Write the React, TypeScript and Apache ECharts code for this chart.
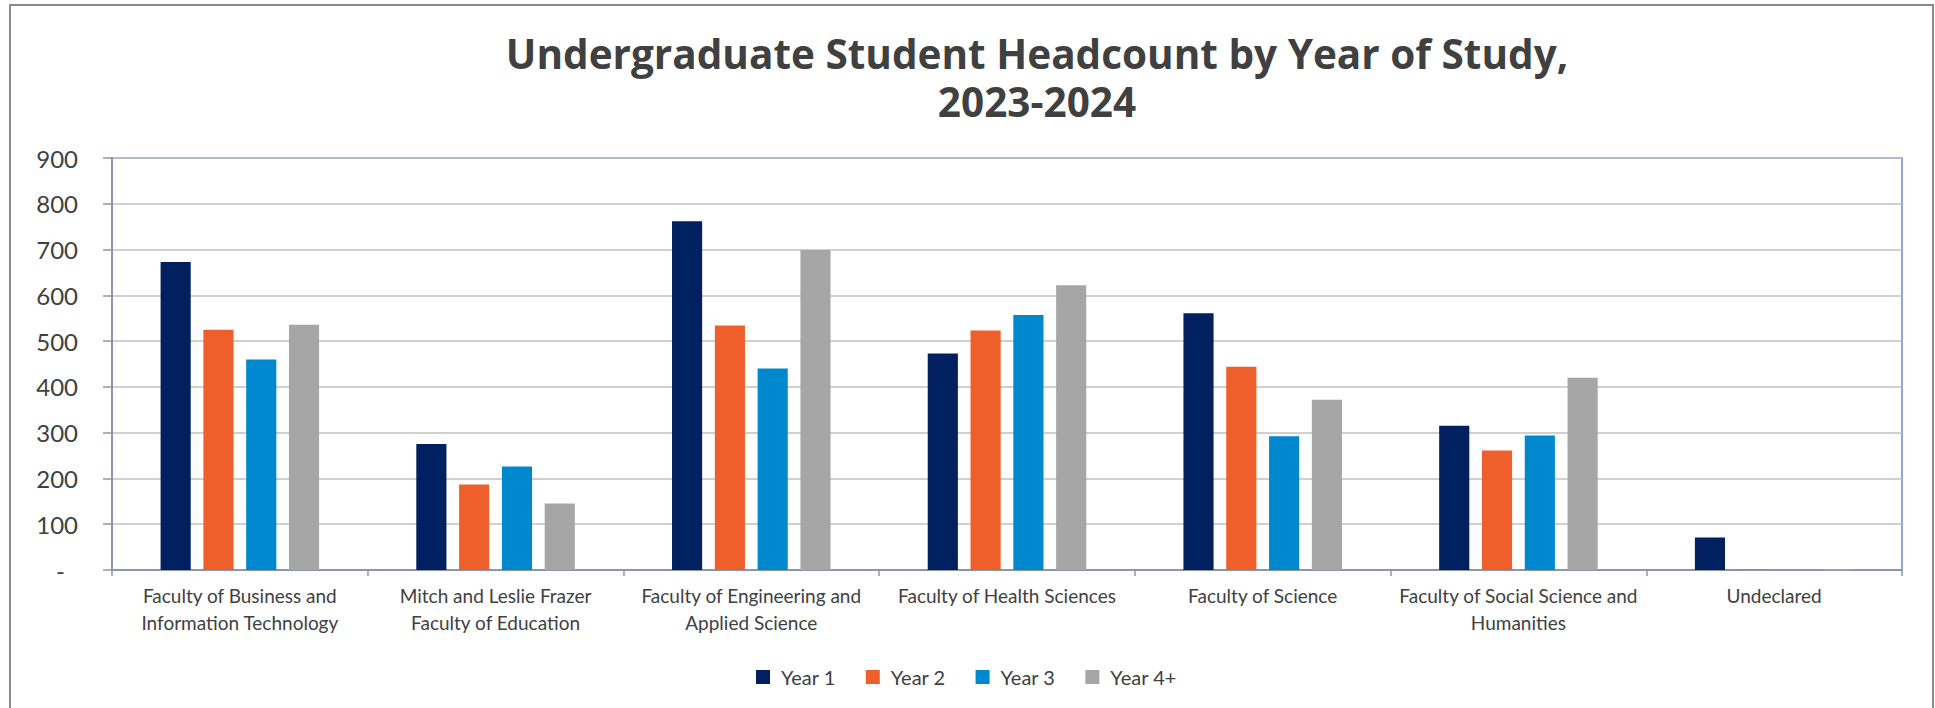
import React, { useEffect, useRef } from "react";
import * as echarts from "echarts";

const titleLine1 = "Undergraduate Student Headcount by Year of Study,";
const titleLine2 = "2023-2024";
const categories = [
  "Faculty of Business and\nInformation Technology",
  "Mitch and Leslie Frazer\nFaculty of Education",
  "Faculty of Engineering and\nApplied Science",
  "Faculty of Health Sciences",
  "Faculty of Science",
  "Faculty of Social Science and\nHumanities",
  "Undeclared",
];
const seriesNames = ["Year 1", "Year 2", "Year 3", "Year 4+"];
const year1 = [673, 275, 762, 473, 561, 315, 71];
const year2 = [525, 187, 534, 523, 444, 261, 1];
const year3 = [460, 226, 440, 557, 292, 294, 0];
const year4 = [536, 145, 699, 622, 372, 420, 2];
const seriesValues = [year1, year2, year3, year4];
const seriesColors = ["#002060", "#EE5F2B", "#0088CE", "#A6A6A6"];
const yMin = 0;
const yMax = 900;
const yInterval = 100;

const TEXT = "#404040";
const AXIS = "#8C96A8";

const titleFont = {
  fontFamily: "Open Sans",
  fontWeight: "bold",
  fontSize: 40.5,
  lineHeight: 48,
  color: TEXT,
};

export default function App() {
  const ref = useRef<HTMLDivElement>(null);
  useEffect(() => {
    if (!ref.current) return;
    const chart = echarts.init(ref.current, undefined, { renderer: "svg" });
    chart.setOption({
      animation: false,
      backgroundColor: "#ffffff",
      title: {
        text: titleLine1,
        subtext: titleLine2,
        itemGap: 0,
        padding: 0,
        left: 1037,
        top: 29,
        textAlign: "center",
        textStyle: titleFont,
        subtextStyle: titleFont,
      },
      graphic: [
        {
          type: "rect",
          silent: true,
          shape: { x: 10, y: 5, width: 1923, height: 760 },
          style: { fill: "none", stroke: "#8a8a8a", lineWidth: 2 },
        },
      ],
      legend: {
        left: 751,
        top: 662,
        itemWidth: 14,
        itemHeight: 14,
        itemGap: 30,
        icon: "rect",
        textStyle: {
          fontFamily: "Lato",
          fontSize: 20,
          color: TEXT,
          width: 60,
          padding: [0, 0, 0, 6],
        },
        data: seriesNames,
      },
      grid: {
        left: 112,
        right: 33,
        top: 158,
        bottom: 138,
        show: true,
        borderColor: "#6A8AD2",
        borderWidth: 1.5,
        containLabel: false,
      },
      xAxis: {
        type: "category",
        data: categories,
        axisLine: { show: true, lineStyle: { color: AXIS, width: 2 } },
        axisTick: { show: true, length: 6, lineStyle: { color: AXIS, width: 1.5 } },
        axisLabel: {
          interval: 0,
          margin: 12,
          fontFamily: "Lato",
          fontSize: 19,
          lineHeight: 27,
          color: TEXT,
          align: "center",
        },
      },
      yAxis: {
        type: "value",
        min: yMin,
        max: yMax,
        interval: yInterval,
        axisLine: { show: true, lineStyle: { color: AXIS, width: 2 } },
        axisTick: { show: true, length: 9, lineStyle: { color: AXIS, width: 1.5 } },
        splitLine: { show: true, lineStyle: { color: "#C0C0C0", width: 1.5 } },
        axisLabel: {
          margin: 34,
          fontFamily: "Lato",
          fontSize: 24,
          color: TEXT,
          formatter: (v: number) => (v === 0 ? "{d|-}" : String(v)),
          rich: {
            d: { fontFamily: "Lato", fontSize: 24, color: TEXT, padding: [0, 13, 0, 0] },
          },
        },
      },
      series: seriesNames.map((name, i) => ({
        name,
        type: "bar",
        data: seriesValues[i],
        barGap: "42%",
        barCategoryGap: "38%",
        itemStyle: { color: seriesColors[i] },
      })),
    });
    return () => chart.dispose();
  }, []);
  return (
    <div
      ref={ref}
      style={{ position: "fixed", left: 0, top: 0, width: 1935, height: 708 }}
    />
  );
}
